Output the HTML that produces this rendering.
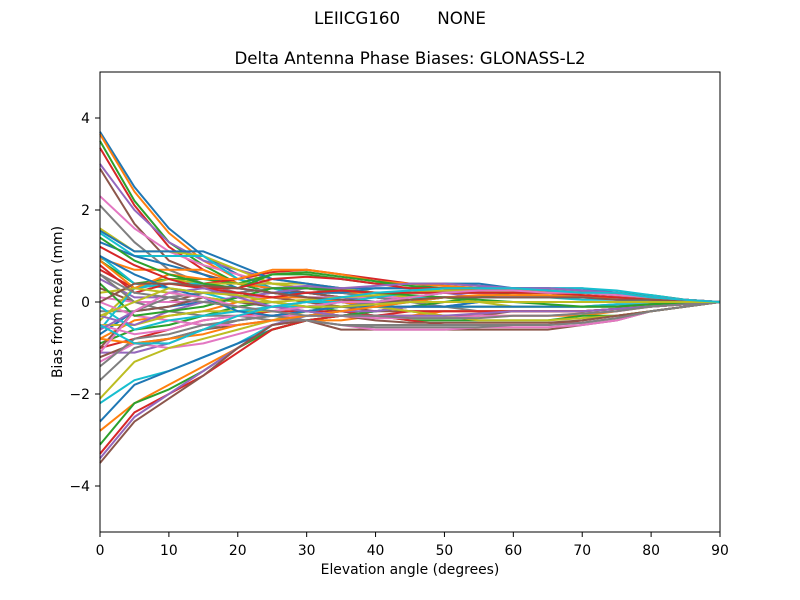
<!DOCTYPE html>
<html><head><meta charset="utf-8"><style>
body{margin:0;background:#fff;}
svg{display:block;font-family:"DejaVu Sans","Liberation Sans",sans-serif;}
</style></head><body>
<svg id="chart" width="800" height="600">
<rect width="800" height="600" fill="#fff"/>
<text x="400" y="24" font-size="16.7" text-anchor="middle" xml:space="preserve">LEIICG160       NONE</text>
<text x="410" y="64" font-size="16.7" text-anchor="middle">Delta Antenna Phase Biases: GLONASS-L2</text>
<g id="lines"></g>
<rect x="100" y="72" width="620" height="460" fill="none" stroke="#000" stroke-width="1"/>
<g id="xt"></g>
<g id="yt"></g>
<text x="410" y="574" font-size="13.9" text-anchor="middle">Elevation angle (degrees)</text>
<text transform="translate(62,302) rotate(-90)" font-size="13.9" text-anchor="middle">Bias from mean (mm)</text>
</svg>
<script>
const elevations=[0,5,10,15,20,25,30,35,40,45,50,55,60,65,70,75,80,85,90];
const xTicks=[0,10,20,30,40,50,60,70,80,90];
const yTicks=[-4,-2,0,2,4];
const s1=[3.7,2.5,1.6,1.0,0.6,0.3,0.2,0.1,0.1,0.1,0.1,0.1,0.1,0.1,0.1,0.05,0.05,0.02,0];
const s2=[3.65,2.4,1.5,0.9,0.5,0.3,0.2,0.2,0.1,0.1,0.1,0.1,0.1,0.1,0.1,0.1,0.05,0.02,0];
const s3=[3.5,2.2,1.3,0.8,0.4,0.2,0.1,0.0,0.0,0.0,0.1,0.1,0.1,0.1,0.1,0.1,0.05,0.02,0];
const s4=[3.35,2.1,1.2,0.7,0.4,0.3,0.2,0.1,0.1,0.0,0.0,0.0,0.0,0.0,0.0,0.0,0.0,0.0,0];
const s5=[3.0,2.0,1.3,0.9,0.7,0.5,0.4,0.3,0.2,0.2,0.2,0.1,0.1,0.1,0.1,0.1,0.05,0.02,0];
const s6=[2.9,1.7,0.9,0.6,0.4,0.3,0.2,0.1,0.1,0.0,0.0,0.0,0.0,0.0,0.0,0.0,0.0,0.0,0];
const s7=[2.3,1.6,1.1,0.8,0.6,0.4,0.3,0.2,0.1,0.1,0.1,0.1,0.1,0.1,0.1,0.05,0.05,0.02,0];
const s8=[2.1,1.3,0.7,0.4,0.2,0.1,0.0,-0.1,-0.1,-0.1,-0.1,-0.1,-0.1,-0.1,-0.1,-0.05,-0.05,0,0];
const s9=[1.6,1.1,1.1,1.0,0.7,0.4,0.3,0.2,0.2,0.2,0.2,0.2,0.2,0.1,0.1,0.1,0.05,0.02,0];
const s10=[1.5,1.0,1.0,1.0,0.5,0.3,0.1,0.0,-0.1,-0.1,-0.1,-0.1,-0.1,-0.1,-0.1,-0.05,-0.05,0,0];
const s11=[1.3,1.0,0.8,0.6,0.3,0.2,0.1,0.1,0.0,0.0,0.0,0.0,0.0,0.0,0.0,0.0,0.0,0,0];
const s12=[0.95,0.7,0.7,0.7,0.4,0.3,0.3,0.2,0.2,0.1,0.1,0.1,0.1,0.1,0.1,0.1,0.05,0.02,0];
const s13=[0.9,0.4,0.5,0.5,0.4,0.6,0.6,0.5,0.4,0.4,0.4,0.35,0.3,0.3,0.25,0.2,0.15,0.05,0];
const s14=[0.7,0.3,0.4,0.4,0.5,0.65,0.7,0.6,0.5,0.4,0.35,0.3,0.3,0.25,0.2,0.2,0.1,0.05,0];
const s15=[0.5,0.1,0.1,0.2,0.2,0.3,0.35,0.3,0.2,0.2,0.3,0.3,0.2,0.2,0.2,0.15,0.1,0.05,0];
const s16=[0.3,0.0,0.0,0.2,0.2,0.1,0.0,-0.1,-0.2,-0.2,-0.2,-0.2,-0.2,-0.2,-0.2,-0.15,-0.1,-0.05,0];
const s17=[0.1,0.0,0.0,0.0,0.1,0.1,0.1,0.1,0.1,0.2,0.2,0.2,0.1,0.1,0.1,0.1,0.05,0.02,0];
const s18=[-0.2,-0.2,0.1,0.2,0.2,0.3,0.3,0.2,0.1,0.0,-0.1,-0.2,-0.2,-0.2,-0.2,-0.15,-0.1,-0.05,0];
const s19=[-0.4,0.3,0.5,0.4,0.4,0.4,0.4,0.3,0.2,0.1,0.1,0.0,-0.1,-0.1,-0.1,-0.1,-0.05,-0.02,0];
const s20=[-0.6,0.3,0.4,0.4,0.3,0.2,0.1,0.0,-0.1,-0.1,-0.1,-0.1,-0.1,-0.1,-0.1,-0.1,-0.05,-0.02,0];
const s21=[-0.7,-0.2,-0.1,0.0,0.1,0.2,0.2,0.2,0.3,0.3,0.4,0.4,0.3,0.3,0.3,0.2,0.1,0.05,0];
const s22=[-0.8,-0.4,-0.3,-0.2,0.0,0.1,0.1,0.0,-0.1,-0.2,-0.3,-0.3,-0.3,-0.3,-0.3,-0.2,-0.1,-0.05,0];
const s23=[-0.9,-0.6,-0.5,-0.3,-0.1,0.0,-0.1,-0.2,-0.3,-0.4,-0.4,-0.4,-0.4,-0.4,-0.3,-0.3,-0.2,-0.1,0];
const s24=[-1.0,-0.8,-0.6,-0.4,-0.3,-0.2,-0.2,-0.2,-0.3,-0.4,-0.5,-0.5,-0.5,-0.5,-0.4,-0.3,-0.2,-0.1,0];
const s25=[-1.1,-1.1,-0.9,-0.6,-0.4,-0.3,-0.2,-0.1,0.0,0.1,0.2,0.2,0.2,0.2,0.2,0.15,0.1,0.05,0];
const s26=[-1.2,-0.9,-0.8,-0.6,-0.5,-0.4,-0.3,-0.3,-0.3,-0.3,-0.3,-0.3,-0.2,-0.2,-0.2,-0.15,-0.1,-0.05,0];
const s27=[-1.3,-0.9,-1.0,-0.9,-0.7,-0.5,-0.4,-0.3,-0.2,-0.1,0.0,0.0,0.0,0.0,0.0,0.0,0.0,0,0];
const s28=[-1.7,-1.0,-0.8,-0.6,-0.4,-0.3,-0.2,-0.1,0.0,0.1,0.2,0.2,0.2,0.2,0.1,0.1,0.05,0.02,0];
const s29=[-2.1,-1.3,-1.0,-0.8,-0.6,-0.4,-0.2,-0.1,-0.1,-0.1,-0.1,-0.1,-0.1,-0.1,-0.1,-0.1,-0.05,0,0];
const s30=[-2.2,-1.7,-1.5,-1.2,-0.9,-0.5,-0.3,-0.2,-0.1,0.0,0.1,0.1,0.1,0.1,0.1,0.1,0.05,0.02,0];
const s31=[-2.6,-1.8,-1.5,-1.2,-0.9,-0.6,-0.4,-0.3,-0.2,-0.1,-0.1,-0.1,-0.1,-0.1,-0.1,-0.1,-0.05,0,0];
const s32=[-2.8,-2.2,-1.8,-1.4,-1.0,-0.6,-0.4,-0.4,-0.3,-0.3,-0.2,-0.2,-0.2,-0.2,-0.2,-0.15,-0.1,-0.05,0];
const s33=[-3.1,-2.2,-1.9,-1.5,-1.0,-0.6,-0.4,-0.3,-0.2,-0.1,0.0,0.1,0.2,0.2,0.2,0.15,0.1,0.05,0];
const s34=[-3.3,-2.4,-2.0,-1.6,-1.1,-0.6,-0.4,-0.3,-0.3,-0.2,-0.2,-0.2,-0.2,-0.2,-0.2,-0.15,-0.1,-0.05,0];
const s35=[-3.4,-2.5,-2.0,-1.5,-1.0,-0.5,-0.3,-0.2,-0.2,-0.1,-0.1,0.0,0.0,0.0,0.0,0.0,0.0,0,0];
const s36=[-3.5,-2.6,-2.1,-1.6,-1.0,-0.5,-0.4,-0.6,-0.6,-0.6,-0.6,-0.6,-0.6,-0.6,-0.5,-0.4,-0.2,-0.1,0];
const s37=[0.0,-0.3,-0.4,-0.5,-0.5,-0.4,-0.4,-0.5,-0.6,-0.6,-0.6,-0.55,-0.55,-0.55,-0.5,-0.4,-0.2,-0.1,0];
const s38=[0.6,0.0,-0.2,-0.3,-0.3,-0.4,-0.4,-0.5,-0.5,-0.5,-0.5,-0.5,-0.5,-0.5,-0.45,-0.35,-0.2,-0.1,0];
const s39=[-0.5,-0.5,-0.3,-0.2,-0.2,-0.2,-0.1,-0.1,-0.1,-0.2,-0.3,-0.4,-0.4,-0.4,-0.35,-0.3,-0.2,-0.1,0];
const s40=[1.0,0.4,0.3,0.2,0.0,-0.1,-0.1,0.0,0.1,0.2,0.3,0.3,0.3,0.3,0.3,0.25,0.15,0.05,0];
const s41=[1.55,1.1,1.1,1.1,0.8,0.5,0.4,0.3,0.3,0.3,0.3,0.3,0.3,0.3,0.25,0.2,0.1,0.05,0];
const s42=[0.9,0.3,0.6,0.5,0.5,0.7,0.7,0.6,0.45,0.4,0.35,0.3,0.25,0.25,0.2,0.2,0.1,0.05,0];
const s43=[1.4,0.9,0.6,0.4,0.3,0.6,0.65,0.55,0.45,0.35,0.3,0.3,0.25,0.2,0.2,0.15,0.1,0.05,0];
const s44=[0.8,0.2,0.4,0.3,0.3,0.5,0.55,0.5,0.4,0.3,0.3,0.25,0.2,0.2,0.2,0.15,0.1,0.05,0];
const s45=[-0.3,-0.5,-0.2,0.0,0.1,0.2,0.3,0.3,0.35,0.4,0.4,0.35,0.3,0.3,0.25,0.2,0.1,0.05,0];
const s46=[-1.0,-0.2,-0.1,0.1,0.0,-0.1,-0.2,-0.3,-0.4,-0.45,-0.45,-0.45,-0.45,-0.45,-0.4,-0.3,-0.2,-0.1,0];
const s47=[-0.5,-0.7,-0.6,-0.4,-0.3,-0.3,-0.3,-0.3,-0.35,-0.35,-0.35,-0.3,-0.3,-0.3,-0.25,-0.2,-0.1,-0.05,0];
const s48=[-1.4,-0.8,-0.7,-0.5,-0.4,-0.3,-0.4,-0.5,-0.55,-0.55,-0.55,-0.55,-0.5,-0.5,-0.45,-0.35,-0.2,-0.1,0];
const s49=[0.2,0.3,0.2,0.1,0.0,0.0,0.05,0.1,0.15,0.2,0.25,0.25,0.2,0.2,0.15,0.1,0.05,0.02,0];
const s50=[-0.1,-0.6,-0.4,-0.3,-0.2,-0.1,0.0,0.0,0.0,0.1,0.1,0.1,0.1,0.1,0.05,0.05,0.02,0,0];
const s51=[1.0,0.6,0.3,0.1,-0.2,-0.3,-0.2,-0.1,-0.1,-0.1,-0.1,0.0,0.0,0.0,0.0,0.0,0.0,0,0];
const s52=[-0.8,-0.9,-0.8,-0.7,-0.5,-0.4,-0.3,-0.2,-0.1,0.0,0.1,0.15,0.15,0.15,0.1,0.1,0.05,0.02,0];
const s53=[0.4,-0.3,-0.2,-0.1,0.1,0.3,0.3,0.25,0.2,0.15,0.1,0.05,0.0,-0.05,-0.1,-0.1,-0.05,-0.02,0];
const s54=[1.2,0.8,0.5,0.3,0.2,0.1,0.2,0.25,0.2,0.2,0.2,0.2,0.2,0.2,0.15,0.1,0.05,0.02,0];
const s55=[-0.6,-0.2,0.2,0.3,0.1,-0.1,-0.2,-0.3,-0.3,-0.3,-0.3,-0.25,-0.2,-0.2,-0.2,-0.15,-0.1,-0.05,0];
const s56=[0.0,0.4,0.4,0.35,0.3,0.2,0.1,0.05,0.0,0.05,0.1,0.1,0.1,0.1,0.1,0.05,0.05,0.02,0];
const s57=[-1.1,-0.2,0.2,0.1,-0.1,-0.2,-0.1,0.0,0.0,0.1,0.2,0.25,0.25,0.2,0.2,0.15,0.1,0.05,0];
const s58=[0.6,0.2,0.1,0.0,-0.1,-0.2,-0.3,-0.3,-0.3,-0.35,-0.35,-0.35,-0.3,-0.3,-0.25,-0.2,-0.1,-0.05,0];
const s59=[-0.3,0.0,0.3,0.2,0.15,0.0,-0.1,-0.1,-0.05,0.0,0.0,0.0,0.0,0.0,0.0,0.0,0.0,0,0];
const s60=[-0.5,-0.9,-0.9,-0.6,-0.3,-0.1,0.0,0.1,0.2,0.25,0.3,0.3,0.3,0.25,0.2,0.2,0.1,0.05,0];
const series=[s1,s2,s3,s4,s5,s6,s7,s8,s9,s10,s11,s12,s13,s14,s15,s16,s17,s18,s19,s20,s21,s22,s23,s24,s25,s26,s27,s28,s29,s30,s31,s32,s33,s34,s35,s36,s37,s38,s39,s40,s41,s42,s43,s44,s45,s46,s47,s48,s49,s50,s51,s52,s53,s54,s55,s56,s57,s58,s59,s60];
const colors=['#1f77b4','#ff7f0e','#2ca02c','#d62728','#9467bd','#8c564b','#e377c2','#7f7f7f','#bcbd22','#17becf'];
const NS='http://www.w3.org/2000/svg';
const xs=v=>100+v/90*620;
const ys=v=>302-v*46;
const g=document.getElementById('lines');
series.forEach((s,i)=>{
  const p=document.createElementNS(NS,'polyline');
  p.setAttribute('points',s.map((v,j)=>xs(elevations[j])+','+ys(v)).join(' '));
  p.setAttribute('fill','none');
  p.setAttribute('stroke',colors[i%10]);
  p.setAttribute('stroke-width','2');
  p.setAttribute('stroke-linejoin','round');
  
  
  g.appendChild(p);
});
const xt=document.getElementById('xt');
xTicks.forEach(t=>{
  const l=document.createElementNS(NS,'line');
  l.setAttribute('x1',xs(t));l.setAttribute('x2',xs(t));l.setAttribute('y1',532);l.setAttribute('y2',537);l.setAttribute('stroke','#000');
  
  
  xt.appendChild(l);
  const tx=document.createElementNS(NS,'text');
  tx.setAttribute('x',xs(t));tx.setAttribute('y',555);tx.setAttribute('font-size','13.9');tx.setAttribute('text-anchor','middle');
  tx.textContent=t;
  
  
  xt.appendChild(tx);
});
const yt=document.getElementById('yt');
yTicks.forEach(t=>{
  const l=document.createElementNS(NS,'line');
  l.setAttribute('x1',95);l.setAttribute('x2',100);l.setAttribute('y1',ys(t));l.setAttribute('y2',ys(t));l.setAttribute('stroke','#000');
  
  
  yt.appendChild(l);
  const tx=document.createElementNS(NS,'text');
  tx.setAttribute('x',90);tx.setAttribute('y',ys(t)+5);tx.setAttribute('font-size','13.9');tx.setAttribute('text-anchor','end');
  tx.textContent=t<0?'\u2212'+(-t):String(t);
  
  
  yt.appendChild(tx);
});
</script>
</body></html>
